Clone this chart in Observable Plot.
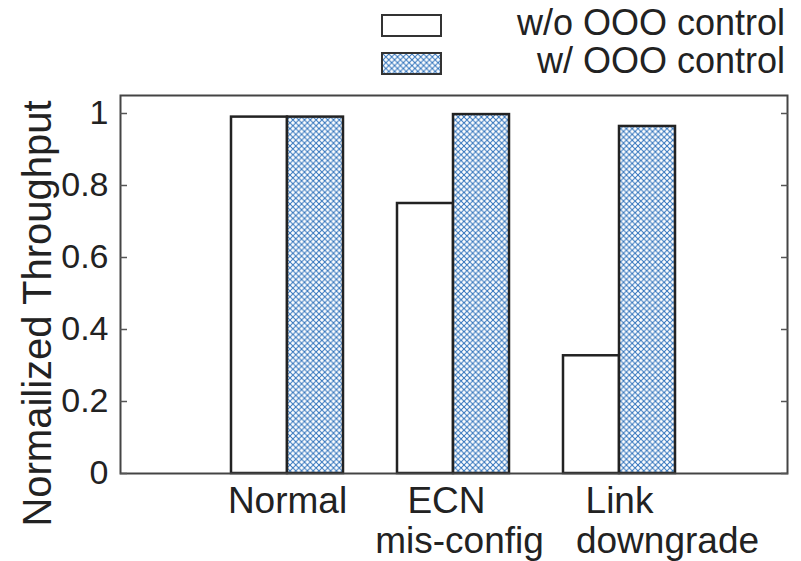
<!DOCTYPE html>
<html>
<head>
<meta charset="utf-8">
<script src="https://cdn.jsdelivr.net/npm/d3@7"></script>
<script src="https://cdn.jsdelivr.net/npm/@observablehq/plot@0.6"></script>
<style>
  html, body { margin: 0; padding: 0; background: #fff; }
  body { width: 801px; height: 561px; overflow: hidden; font-family: "Liberation Sans", Arial, Helvetica, sans-serif; color: #222; }
  #legend { position: relative; width: 801px; height: 88px; }
  #chart svg { display: block; }
  .lg-box { position: absolute; left: 381px; width: 57px; height: 19px; border: 2.5px solid #333; box-sizing: content-box; }
  .lg-box svg { display: block; }
  .lg-text { position: absolute; right: 16px; font-size: 36px; line-height: 1; white-space: nowrap; }
</style>
</head>
<body>
<svg width="0" height="0" style="position:absolute">
  <defs>
    <pattern id="xhatch" patternUnits="userSpaceOnUse" width="5.8" height="5.8">
      <rect width="5.8" height="5.8" fill="#fff"></rect>
      <path d="M0,0L5.8,5.8M5.8,0L0,5.8" stroke="#2f72bb" stroke-width="1" fill="none"></path>
    </pattern>
  </defs>
</svg>
<div id="legend"></div>
<div id="chart"></div>
<script>
const categories = ["Normal", "ECN", "Link"];
const tickLines1 = ["Normal", "ECN", "Link"];
const tickLines2 = ["", "mis-config", "downgrade"];
const seriesNames = ["w/o OOO control", "w/ OOO control"];
const withoutControl = [0.99, 0.75, 0.327];
const withControl = [0.99, 0.997, 0.964];
const yTicks = [0, 0.2, 0.4, 0.6, 0.8, 1];
const yLabel = "Normailized Throughput";

const dataWo = categories.map((c, i) => ({category: c, value: withoutControl[i]}));
const dataW = categories.map((c, i) => ({category: c, value: withControl[i]}));

// Legend
const legend = document.getElementById("legend");
const legendTops = [14, 52];
seriesNames.forEach((name, i) => {
  const box = document.createElement("div");
  box.className = "lg-box";
  box.style.top = legendTops[i] + "px";
  if (i === 1) {
    box.innerHTML = '<svg width="57" height="19"><rect width="57" height="19" fill="url(#xhatch)"></rect></svg>';
  } else {
    box.style.background = "#fff";
  }
  legend.appendChild(box);
  const t = document.createElement("div");
  t.className = "lg-text";
  t.style.top = (legendTops[i] - 9) + "px";
  t.textContent = name;
  legend.appendChild(t);
});

const half = 56;
const fmt = d => String(d);
const line1 = d => tickLines1[categories.indexOf(d)];
const line2 = d => tickLines2[categories.indexOf(d)];
const xFont = 37;
const chart = Plot.plot({
  width: 801,
  height: 473,
  marginLeft: 120,
  marginRight: 14,
  marginTop: 7,
  marginBottom: 88,
  style: {fontFamily: '"Liberation Sans", Arial, Helvetica, sans-serif', color: "#222", overflow: "visible"},
  x: {domain: categories, paddingInner: 0.325, paddingOuter: 0.6625, axis: null},
  y: {domain: [0, 1.05], axis: null},
  marks: [
    Plot.barY(dataWo, {x: "category", y: "value", fill: "#fff", stroke: "#222", strokeWidth: 2.5, insetRight: half}),
    Plot.barY(dataW, {x: "category", y: "value", fill: "url(#xhatch)", stroke: "#222", strokeWidth: 2.5, insetLeft: half}),
    Plot.frame({stroke: "#444", strokeWidth: 2}),
    Plot.axisY(yTicks, {anchor: "left", tickSize: 7, insetLeft: 7, tickFormat: () => "", label: null, stroke: "#555", strokeWidth: 1.5}),
    Plot.axisY(yTicks, {anchor: "right", tickSize: 7, insetRight: 7, tickFormat: () => "", label: null, stroke: "#555", strokeWidth: 1.5}),
    Plot.axisY(yTicks, {anchor: "left", tickSize: 0, tickPadding: 12, fontSize: 34, tickFormat: fmt, label: null}),
    // first line of category labels
    Plot.axisX([categories[0], categories[2]], {anchor: "bottom", tickSize: 0, tickPadding: 13, fontSize: xFont, tickFormat: line1, label: null}),
    Plot.axisX([categories[1]], {anchor: "bottom", tickSize: 0, tickPadding: 13, fontSize: xFont, tickFormat: line1, label: null, dx: -7}),
    // second line of category labels
    Plot.axisX([categories[1]], {anchor: "bottom", tickSize: 0, tickPadding: 53, fontSize: xFont, tickFormat: line2, label: null, dx: 6}),
    Plot.axisX([categories[2]], {anchor: "bottom", tickSize: 0, tickPadding: 53, fontSize: xFont, tickFormat: line2, label: null, dx: 48}),
    Plot.text([yLabel], {frameAnchor: "left", rotate: -90, textAnchor: "middle", dx: -82, dy: 29, fontSize: 40, fill: "#222"})
  ]
});
document.getElementById("chart").appendChild(chart);
</script>
</body>
</html>
